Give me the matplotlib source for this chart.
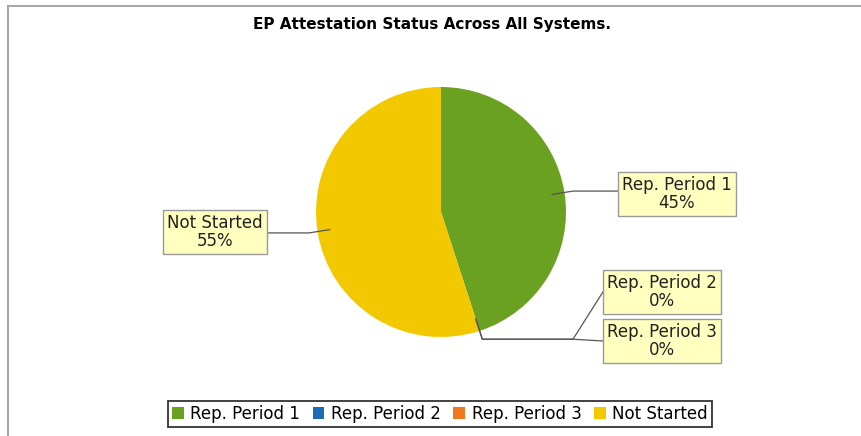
import numpy as np
import matplotlib.pyplot as plt
from matplotlib.patches import Patch
from matplotlib.lines import Line2D

# chart data
labels = ["Rep. Period 1", "Rep. Period 2", "Rep. Period 3", "Not Started"]
shares = [45, 0, 0, 55]
colors = ["#6aa121", "#1a6db5", "#f0781e", "#f2c900"]
title = "EP Attestation Status Across All Systems."

W, H = 861, 436
fig = plt.figure(figsize=(W / 100, H / 100), dpi=100)
ax = fig.add_axes([0, 0, 1, 1])

# pie in pixel coordinates (y measured from the bottom)
cx, cy, r = 441, H - 212, 125
wedges, _ = ax.pie(shares, colors=colors, startangle=90, counterclock=False,
                   center=(cx, cy), radius=r, frame=True,
                   wedgeprops=dict(linewidth=0))
ax.set_xlim(0, W)
ax.set_ylim(0, H)
ax.set_aspect('auto')
ax.axis('off')

# label boxes: (center x, center y from top)
box_pos = {"Rep. Period 1": (677, 194), "Rep. Period 2": (662, 292),
           "Rep. Period 3": (662, 341), "Not Started": (215, 232)}

texts = []
for lab, val in zip(labels, shares):
    bx, by = box_pos[lab]
    t = ax.text(bx, H - by, f"{lab}\n{val}%", ha='center', va='center', fontsize=12,
                linespacing=1.0, color="#222222",
                bbox=dict(boxstyle='square,pad=0.25', fc='#ffffc0', ec='#999999', lw=1))
    texts.append(t)

fig.canvas.draw()
for w, t, val in zip(wedges, texts, shares):
    ext = t.get_bbox_patch().get_window_extent()
    by = (ext.y0 + ext.y1) / 2
    mid = np.deg2rad((w.theta1 + w.theta2) / 2)
    ax0 = cx + 0.9 * r * np.cos(mid)
    ay0 = cy + 0.9 * r * np.sin(mid)
    ex = cx + 1.07 * r * np.cos(mid)
    ey = cy + 1.07 * r * np.sin(mid)
    if ext.x0 > cx:
        if val == 0:
            xs = [ax0, ex, 573, ext.x0]
            ys = [ay0, ey, ey, by]
        else:
            xs = [ax0, ex, ext.x0]
            ys = [ay0, ey, ey]
    else:
        xs = [ax0, ex, ext.x1]
        ys = [ay0, ey, ey]
    ax.plot(xs, ys, color="#555555", lw=0.9, zorder=1.5)

fig.text(432 / W, 1 - 25 / H, title, ha='center', va='center', fontsize=11,
         fontweight='bold', family=['Liberation Sans Narrow', 'DejaVu Sans'])

handles = [Patch(facecolor=c, edgecolor='none', label=l) for c, l in zip(colors, labels)]
leg = fig.legend(handles=handles, loc='center', bbox_to_anchor=(440 / W, 1 - 414 / H),
                 ncol=4, frameon=True, fancybox=False, edgecolor='black', fontsize=12,
                 handlelength=0.7, handleheight=0.7, handletextpad=0.4,
                 columnspacing=0.75, borderpad=0.25, borderaxespad=0)
leg.get_frame().set_linewidth(1.3)

# outer panel border (top and left only)
fig.add_artist(Line2D([7.5 / W, 1], [1 - 6.5 / H, 1 - 6.5 / H], transform=fig.transFigure,
                      color='#a8a8a8', lw=1.5))
fig.add_artist(Line2D([7.5 / W, 7.5 / W], [0, 1 - 6.5 / H], transform=fig.transFigure,
                      color='#a8a8a8', lw=1.5))

fig.savefig("out.png", dpi=100)
